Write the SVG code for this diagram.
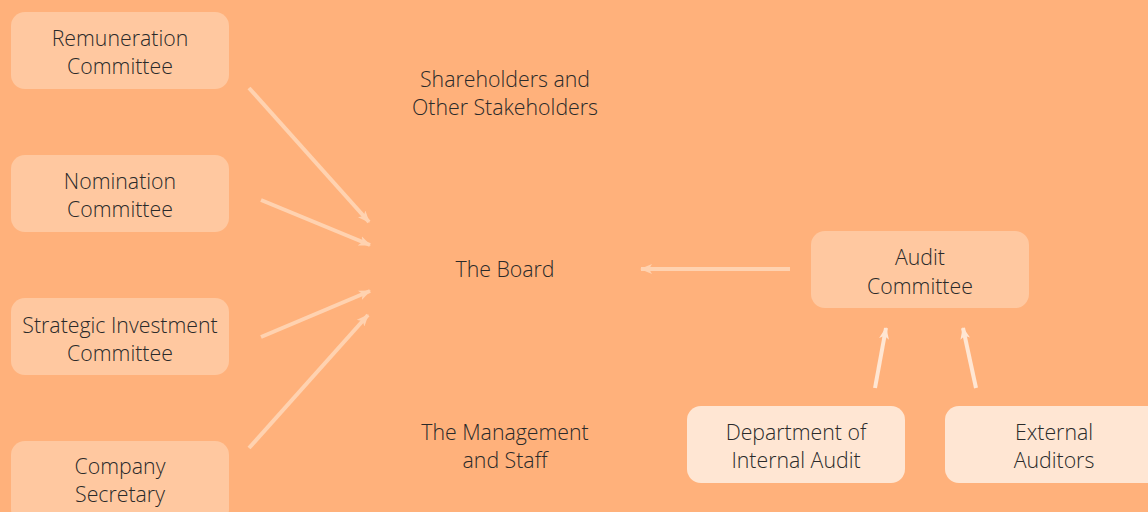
<svg xmlns="http://www.w3.org/2000/svg" width="1148" height="512" viewBox="0 0 1148 512">
  <style>
    .box { fill: #FFC8A0; }
    .box-light { fill: #FFE6D3; }
    .label { font-family: "Open Sans", "Liberation Sans", sans-serif; font-weight: 300; font-size: 21.3px; fill: #2A2A2A; text-anchor: middle; }
    .link { stroke: #FFD2B0; stroke-width: 4; fill: none; }
    .link-light { stroke: #FFE6D3; stroke-width: 4; fill: none; }
  </style>
  <defs>
    <marker id="head" viewBox="0 0 12 10" refX="11" refY="5" markerWidth="12" markerHeight="10" markerUnits="userSpaceOnUse" orient="auto">
      <path d="M0,0 L12,5 L0,10 L3,5 Z" fill="#FFD2B0"/>
    </marker>
    <marker id="head-light" viewBox="0 0 12 10" refX="11" refY="5" markerWidth="12" markerHeight="10" markerUnits="userSpaceOnUse" orient="auto">
      <path d="M0,0 L12,5 L0,10 L3,5 Z" fill="#FFE6D3"/>
    </marker>
  </defs>
  <rect width="1148" height="512" fill="#FFB17B"/>

  <g id="connectors">
    <line class="link" x1="249" y1="88" x2="369" y2="222" marker-end="url(#head)"/>
    <line class="link" x1="261" y1="200" x2="370" y2="245" marker-end="url(#head)"/>
    <line class="link" x1="261" y1="337" x2="370" y2="291" marker-end="url(#head)"/>
    <line class="link" x1="249" y1="448" x2="368" y2="315" marker-end="url(#head)"/>
    <line class="link" x1="790" y1="269" x2="641" y2="269" marker-end="url(#head)"/>
    <line class="link-light" x1="875" y1="388" x2="886" y2="328" marker-end="url(#head-light)"/>
    <line class="link-light" x1="976" y1="388" x2="963" y2="328" marker-end="url(#head-light)"/>
  </g>

  <g id="remuneration">
    <rect class="box" x="11" y="12" width="218" height="77" rx="14"/>
    <text class="label" x="120" y="46">Remuneration</text>
    <text class="label" x="120" y="74">Committee</text>
  </g>
  <g id="nomination">
    <rect class="box" x="11" y="155" width="218" height="77" rx="14"/>
    <text class="label" x="120" y="189">Nomination</text>
    <text class="label" x="120" y="217">Committee</text>
  </g>
  <g id="strategic">
    <rect class="box" x="11" y="298" width="218" height="77" rx="14"/>
    <text class="label" x="120" y="333">Strategic Investment</text>
    <text class="label" x="120" y="361">Committee</text>
  </g>
  <g id="secretary">
    <rect class="box" x="11" y="441" width="218" height="82" rx="14"/>
    <text class="label" x="120" y="474">Company</text>
    <text class="label" x="120" y="502">Secretary</text>
  </g>

  <g id="shareholders">
    <text class="label" x="505" y="87">Shareholders and</text>
    <text class="label" x="505" y="115">Other Stakeholders</text>
  </g>
  <g id="board">
    <text class="label" x="505" y="277">The Board</text>
  </g>
  <g id="management">
    <text class="label" x="505" y="440">The Management</text>
    <text class="label" x="505" y="468">and Staff</text>
  </g>

  <g id="audit-committee">
    <rect class="box" x="811" y="231" width="218" height="77" rx="14"/>
    <text class="label" x="920" y="265">Audit</text>
    <text class="label" x="920" y="294">Committee</text>
  </g>
  <g id="internal-audit">
    <rect class="box-light" x="687" y="406" width="218" height="77" rx="14"/>
    <text class="label" x="796" y="440">Department of</text>
    <text class="label" x="796" y="468">Internal Audit</text>
  </g>
  <g id="external-auditors">
    <rect class="box-light" x="945" y="406" width="218" height="77" rx="14"/>
    <text class="label" x="1054" y="440">External</text>
    <text class="label" x="1054" y="468">Auditors</text>
  </g>
</svg>
